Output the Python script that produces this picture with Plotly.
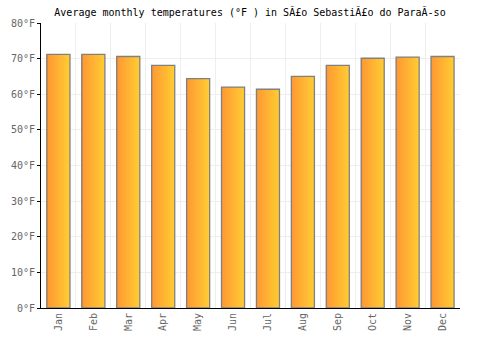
import plotly.graph_objects as go

months = ["Jan", "Feb", "Mar", "Apr", "May", "Jun", "Jul", "Aug", "Sep", "Oct", "Nov", "Dec"]
temps_f = [71.2, 71.2, 70.6, 68.1, 64.4, 62.0, 61.4, 65.0, 68.1, 70.1, 70.4, 70.6]
y_ticks = [0, 10, 20, 30, 40, 50, 60, 70, 80]
y_tick_labels = [f"{v}°F" for v in y_ticks]
title = "Average monthly temperatures (°F ) in SÃ£o SebastiÃ£o do ParaÃ-so"

BAR_W = 0.66
STEPS = 14
left_rgb = (255, 153, 51)
right_rgb = (255, 204, 51)

fig = go.Figure()
# simulate horizontal gradient: full-width right colour, then narrower left-anchored bars
for i in range(STEPS):
    frac = 1 - i / STEPS
    t = (STEPS - 1 - i) / (STEPS - 1)
    c = tuple(round(left_rgb[k] + (right_rgb[k] - left_rgb[k]) * t) for k in range(3))
    w = BAR_W * frac
    fig.add_trace(go.Bar(
        x=months, y=temps_f, width=w, offset=-BAR_W / 2,
        marker=dict(color=f"rgb{c}", line=dict(width=0)),
        hoverinfo="skip", showlegend=False,
    ))
fig.add_trace(go.Bar(
    x=months, y=temps_f, width=BAR_W, offset=-BAR_W / 2,
    marker=dict(color="rgba(0,0,0,0)", line=dict(color="#808080", width=1.3)),
    showlegend=False,
))

fig.update_layout(
    width=500, height=350,
    barmode="overlay",
    margin=dict(l=41, r=40, t=23, b=42),
    paper_bgcolor="white", plot_bgcolor="white",
    title=dict(text=title, x=0.5, xanchor="center", y=0.965, yanchor="middle",
               font=dict(family="DejaVu Sans Mono", size=10, color="#000")),
    font=dict(family="DejaVu Sans Mono", size=10, color="#666"),
)
fig.update_xaxes(
    type="category", tickson="boundaries", showgrid=True, gridcolor="#eeeeee",
    showline=True, linecolor="#000", linewidth=1, tickangle=-90,
    ticks="", tickfont=dict(size=10, color="#666"), range=[-0.5, 11.5],
)
fig.update_yaxes(
    range=[0, 80], tickvals=y_ticks, ticktext=y_tick_labels,
    showgrid=True, gridcolor="#eeeeee", showline=True, linecolor="#000", linewidth=1,
    ticks="outside", ticklen=3, tickcolor="#000", zeroline=False,
    tickfont=dict(size=10, color="#666"),
)

fig.write_html("out.html")
